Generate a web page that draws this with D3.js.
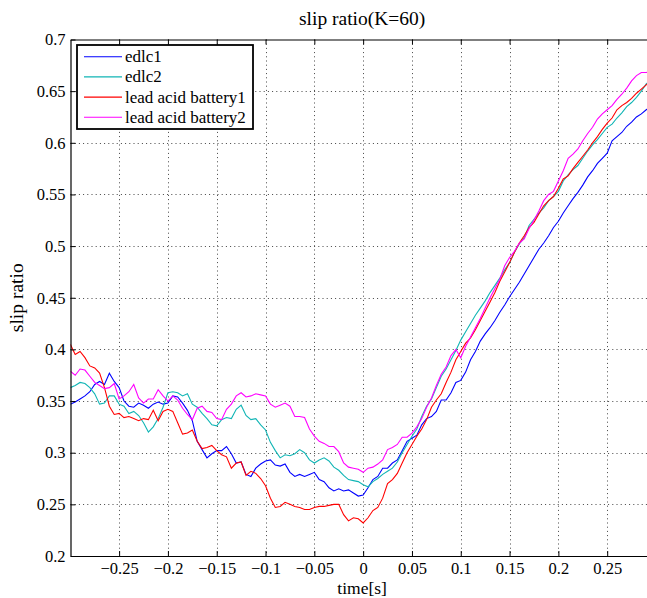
<!DOCTYPE html>
<html><head><meta charset="utf-8">
<script src="https://cdn.jsdelivr.net/npm/d3@7"></script>
<style>body{margin:0;background:#fff}svg{display:block}svg text{font-family:"Liberation Serif","Times New Roman",serif !important}</style>
</head><body><div id="chart"></div>
<script>
const title = "slip ratio(K=60)";
const xLabel = "time[s]";
const yLabel = "slip ratio";
const tStart = -0.300, tStep = 0.005;
const seriesNames = ["edlc1", "edlc2", "lead acid battery1", "lead acid battery2"];
const seriesColors = ["#0000ff", "#11b5b5", "#ff0000", "#ff00ff"];
const xTicks = [-0.25,-0.2,-0.15,-0.1,-0.05,0,0.05,0.1,0.15,0.2,0.25];
const yTicks = [0.2,0.25,0.3,0.35,0.4,0.45,0.5,0.55,0.6,0.65,0.7];

const edlc1 = [0.347,0.349,0.352,0.355,0.359,0.366,0.369,0.366,0.377,0.369,
0.363,0.350,0.345,0.344,0.348,0.346,0.343,0.347,0.349,0.347,
0.348,0.355,0.354,0.348,0.341,0.331,0.311,0.303,0.295,0.299,
0.302,0.302,0.306,0.299,0.290,0.291,0.279,0.277,0.285,0.289,
0.292,0.293,0.288,0.287,0.289,0.281,0.277,0.279,0.277,0.279,
0.281,0.274,0.272,0.266,0.263,0.265,0.263,0.264,0.261,0.258,
0.259,0.266,0.274,0.277,0.285,0.285,0.290,0.293,0.302,0.311,
0.314,0.317,0.327,0.333,0.335,0.340,0.351,0.351,0.358,0.368,
0.370,0.378,0.390,0.398,0.408,0.415,0.421,0.428,0.436,0.443,
0.451,0.458,0.465,0.473,0.481,0.489,0.497,0.503,0.510,0.518,
0.524,0.532,0.539,0.546,0.552,0.559,0.567,0.573,0.580,0.585,
0.590,0.602,0.606,0.610,0.616,0.620,0.625,0.628,0.632,0.635];

const edlc2 = [0.363,0.365,0.368,0.367,0.363,0.357,0.347,0.348,0.355,0.355,
0.347,0.345,0.338,0.340,0.336,0.329,0.320,0.325,0.333,0.344,
0.358,0.359,0.358,0.355,0.357,0.347,0.344,0.338,0.333,0.327,
0.326,0.332,0.334,0.333,0.342,0.346,0.336,0.332,0.333,0.327,
0.322,0.310,0.302,0.295,0.298,0.297,0.299,0.303,0.300,0.293,
0.290,0.293,0.295,0.292,0.286,0.283,0.278,0.274,0.273,0.272,
0.269,0.267,0.272,0.275,0.279,0.282,0.285,0.291,0.300,0.308,
0.316,0.323,0.335,0.345,0.352,0.363,0.374,0.381,0.390,0.399,
0.409,0.417,0.425,0.433,0.440,0.447,0.455,0.462,0.469,0.477,
0.484,0.494,0.502,0.508,0.520,0.526,0.532,0.537,0.544,0.548,
0.553,0.563,0.569,0.574,0.578,0.585,0.592,0.598,0.603,0.609,
0.615,0.618,0.624,0.629,0.635,0.639,0.644,0.650,0.657,0.661];

const battery1 = [0.405,0.395,0.398,0.392,0.384,0.382,0.377,0.363,0.345,0.337,
0.338,0.334,0.335,0.333,0.331,0.333,0.332,0.341,0.331,0.340,
0.342,0.340,0.329,0.318,0.319,0.322,0.311,0.304,0.305,0.307,
0.302,0.298,0.296,0.285,0.290,0.291,0.278,0.282,0.280,0.275,
0.268,0.256,0.247,0.248,0.252,0.250,0.248,0.247,0.245,0.245,
0.247,0.248,0.248,0.249,0.250,0.250,0.240,0.234,0.237,0.236,
0.232,0.237,0.244,0.247,0.256,0.270,0.274,0.280,0.290,0.300,
0.308,0.316,0.323,0.332,0.344,0.351,0.357,0.368,0.378,0.390,
0.398,0.406,0.411,0.419,0.428,0.437,0.446,0.455,0.466,0.475,
0.484,0.494,0.503,0.510,0.518,0.523,0.531,0.539,0.544,0.548,
0.556,0.565,0.568,0.575,0.581,0.587,0.593,0.600,0.606,0.613,
0.619,0.624,0.632,0.636,0.639,0.643,0.648,0.652,0.656,0.660];

const battery2 = [0.379,0.375,0.381,0.380,0.374,0.368,0.365,0.362,0.363,0.367,
0.352,0.355,0.359,0.366,0.353,0.348,0.352,0.352,0.361,0.355,
0.350,0.355,0.351,0.343,0.337,0.332,0.343,0.345,0.340,0.339,
0.333,0.332,0.342,0.347,0.355,0.358,0.354,0.355,0.357,0.356,
0.355,0.347,0.344,0.346,0.348,0.345,0.335,0.335,0.334,0.323,
0.316,0.311,0.309,0.306,0.306,0.301,0.290,0.286,0.285,0.284,
0.281,0.285,0.286,0.289,0.293,0.303,0.305,0.308,0.315,0.315,
0.319,0.325,0.333,0.344,0.353,0.365,0.376,0.383,0.394,0.400,
0.392,0.403,0.412,0.421,0.430,0.440,0.450,0.459,0.468,0.481,
0.489,0.495,0.503,0.507,0.517,0.525,0.534,0.544,0.550,0.553,
0.563,0.573,0.585,0.589,0.594,0.602,0.609,0.615,0.623,0.628,
0.632,0.636,0.642,0.647,0.653,0.660,0.665,0.668,0.668,0.669];

const seriesValues = [edlc1, edlc2, battery1, battery2];

const FONT = '"Liberation Serif", "Times New Roman", serif';
const W = 647, H = 598;
const svg = d3.select("#chart").append("svg").attr("width", W).attr("height", H)
  .style("font-family", FONT);
const x = d3.scaleLinear().domain([-0.2998, 0.2998]).range([70.5, 655.8]);
const y = d3.scaleLinear().domain([0.2, 0.7]).range([556, 39.5]);
const x0 = x.range()[0], x1 = x.range()[1], y0 = y.range()[0], y1 = y.range()[1];

// grid
const grid = svg.append("g").attr("stroke", "#444").attr("stroke-width", 1).attr("stroke-dasharray", "1,3.2");
grid.selectAll(".gx").data(xTicks).join("line")
  .attr("x1", d => Math.round(x(d)) + 0.5).attr("x2", d => Math.round(x(d)) + 0.5)
  .attr("y1", y1).attr("y2", y0);
grid.selectAll(".gy").data(yTicks.slice(1, -1)).join("line")
  .attr("y1", d => Math.round(y(d)) + 0.5).attr("y2", d => Math.round(y(d)) + 0.5)
  .attr("x1", x0).attr("x2", x1);

// clip
svg.append("clipPath").attr("id", "clip").append("rect")
  .attr("x", x0).attr("y", y1).attr("width", x1 - x0).attr("height", y0 - y1);

const line = d3.line().x((d, i) => x(tStart + i * tStep)).y(d => y(d));
svg.append("g").attr("clip-path", "url(#clip)").selectAll("path").data(seriesValues).join("path")
  .attr("d", d => line(d)).attr("fill", "none")
  .attr("stroke", (d, i) => seriesColors[i]).attr("stroke-width", 1.1);

// axes
const fmt = d => (d < 0 ? "\u2212" : "") + String(Math.abs(d));
const axB = svg.append("g").attr("transform", `translate(0,${y0})`)
  .call(d3.axisBottom(x).tickValues(xTicks).tickSizeInner(-5).tickSizeOuter(0).tickPadding(6.5).tickFormat(fmt));
const axT = svg.append("g").attr("transform", `translate(0,${y1})`)
  .call(d3.axisTop(x).tickValues(xTicks).tickSizeInner(-5).tickSizeOuter(0).tickFormat(""));
const axL = svg.append("g").attr("transform", `translate(${x0},0)`)
  .call(d3.axisLeft(y).tickValues(yTicks).tickSizeInner(-5).tickSizeOuter(0).tickPadding(5).tickFormat(d => String(+d.toFixed(2))));
[axB, axT, axL].forEach(a => {
  a.attr("font-family", null).attr("font-size", null);
  a.select(".domain").attr("stroke", "#000").attr("stroke-width", 1.2);
  a.selectAll(".tick line").attr("stroke", "#000");
  a.selectAll("text").style("font-family", FONT).style("font-size", "16.5px").attr("fill", "#000");
});

// title and labels
svg.append("text").attr("x", (x0 + x1) / 2 - 1).attr("y", 25).attr("text-anchor", "middle")
  .style("font-family", FONT).style("font-size", "19.5px").text(title);
svg.append("text").attr("x", (x0 + x1) / 2 - 1).attr("y", 594).attr("text-anchor", "middle")
  .style("font-family", FONT).style("font-size", "17.5px").text(xLabel);
svg.append("text").attr("transform", `translate(23,${(y0 + y1) / 2}) rotate(-90)`).attr("text-anchor", "middle")
  .style("font-family", FONT).style("font-size", "19.5px").text(yLabel);

// legend
const lg = svg.append("g");
lg.append("rect").attr("x", 77).attr("y", 45).attr("width", 176).attr("height", 84)
  .attr("fill", "#fff").attr("stroke", "#000").attr("stroke-width", 1.8);
const rows = lg.selectAll(".row").data(seriesNames).join("g")
  .attr("transform", (d, i) => `translate(0,${56.7 + i * 20.2})`);
rows.append("line").attr("x1", 84).attr("x2", 122).attr("y1", 0).attr("y2", 0)
  .attr("stroke", (d, i) => seriesColors[i]).attr("stroke-width", 1.1);
rows.append("text").attr("x", 125).attr("y", 5.5)
  .style("font-family", FONT).style("font-size", "17px").text(d => d);
</script></body></html>
